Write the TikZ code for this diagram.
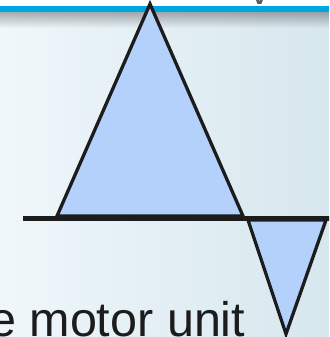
\documentclass[tikz,border=0pt]{standalone}
\usepackage{fontspec}
\setmainfont{Liberation Sans}
\usetikzlibrary{fadings}
\definecolor{bgL}{HTML}{EFF7FA}
\definecolor{bgR}{HTML}{D7E7EE}
\definecolor{barblue}{HTML}{00A6E2}
\definecolor{trifill}{HTML}{B3D1FB}
\definecolor{ink}{HTML}{1C1C1C}
\begin{document}
\begin{tikzpicture}[x=1pt,y=-1pt,
  tri/.style={draw=ink, fill=trifill, line width=3.3pt, line join=miter},
  baseline rule/.style={draw=ink, line width=5pt},
  caption/.style={anchor=base west, text=ink, font=\fontsize{48.5}{48.5}\selectfont, inner sep=0pt}]
\useasboundingbox (0,0) rectangle (329,337);
\clip (0,0) rectangle (329,337);
% background
\shade[left color=bgL, right color=bgR] (0,0) rectangle (329,337);
\fill[white] (0,0) rectangle (329,7);
\fill[black, opacity=0.3, path fading=south] (0,12) rectangle (329,28);
\fill[barblue] (0,6.5) rectangle (329,12);
\node[anchor=base, text=black!65, font=\fontsize{38}{38}\selectfont, inner sep=0pt] (titlefrag) at (260,5) {v};
% triangles
\coordinate (apex) at (150,4);
\coordinate (bl) at (57,216);
\coordinate (br) at (243,216);
\coordinate (sl) at (248,220);
\coordinate (sr) at (326,220);
\coordinate (sb) at (286,334);
\draw[tri] (apex) -- (br) -- (bl) -- cycle;
\draw[tri] (sl) -- (sr) -- (sb) -- cycle;
% axis line
\coordinate (axL) at (23,218.5);
\coordinate (axR) at (335,218.5);
\draw[baseline rule] (axL) -- (axR);
% caption
\node[caption] (label) at (-11,336) {e motor unit};
\end{tikzpicture}
\end{document}
